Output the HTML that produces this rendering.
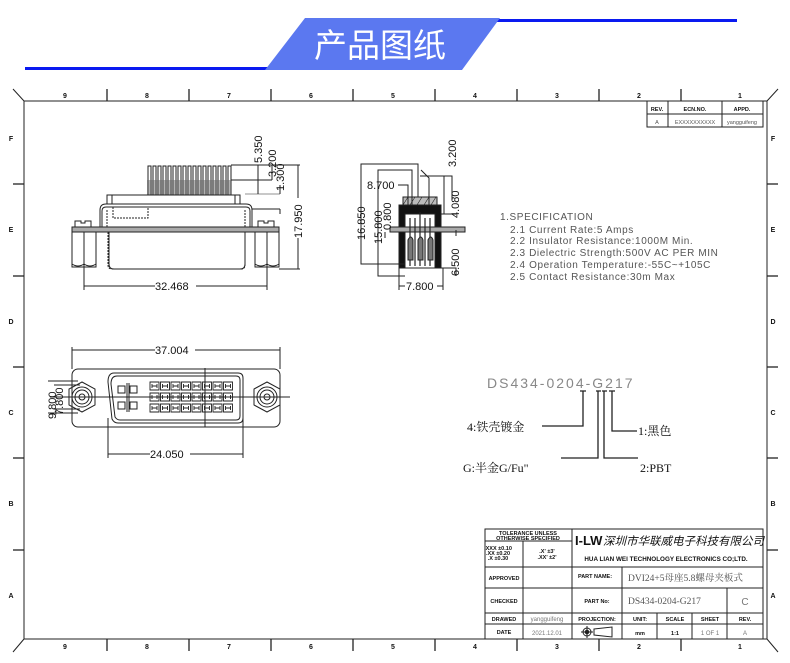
<!DOCTYPE html>
<html><head><meta charset="utf-8"><style>
html,body{margin:0;padding:0;background:#fff;}
svg{display:block;}
text{font-family:"Liberation Sans","Noto Sans CJK SC",sans-serif;}
text.cn,.cn text{font-family:"Liberation Serif","Noto Serif CJK SC",serif;}
</style></head><body>
<svg width="790" height="663" viewBox="0 0 790 663" xmlns="http://www.w3.org/2000/svg">
<defs>
<path id="c" d="M0,0 h9 v8 h-9z M2,2 v4 M7,2 v4 M2,4 h5"/>
</defs>
<!-- header -->
<line x1="25" y1="68.5" x2="270" y2="68.5" stroke="#0a1af0" stroke-width="3"/>
<line x1="490" y1="20.5" x2="737" y2="20.5" stroke="#0a1af0" stroke-width="3"/>
<polygon points="305,18 500,18 462,70 265,70" fill="#5b78f0"/>
<text x="380" y="57" font-size="33" fill="#fff" text-anchor="middle" font-family="'Noto Sans CJK SC',sans-serif">产品图纸</text>

<g stroke="#222" fill="none" stroke-width="1">
<line x1="24" y1="101" x2="767" y2="101"/>
<line x1="24" y1="639" x2="767" y2="639"/>
<line x1="24" y1="101" x2="24" y2="639"/>
<line x1="767" y1="101" x2="767" y2="639"/>
<line x1="13" y1="89" x2="24" y2="101"/>
<line x1="778" y1="89" x2="767" y2="101"/>
<line x1="13" y1="652" x2="24" y2="639"/>
<line x1="778" y1="652" x2="767" y2="639"/>
<g stroke-width="1.3">
<line x1="107" y1="89" x2="107" y2="101"/><line x1="189" y1="89" x2="189" y2="101"/><line x1="271" y1="89" x2="271" y2="101"/><line x1="353" y1="89" x2="353" y2="101"/><line x1="435" y1="89" x2="435" y2="101"/><line x1="517" y1="89" x2="517" y2="101"/><line x1="599" y1="89" x2="599" y2="101"/><line x1="681" y1="89" x2="681" y2="101"/>
<line x1="107" y1="639" x2="107" y2="651"/><line x1="189" y1="639" x2="189" y2="651"/><line x1="271" y1="639" x2="271" y2="651"/><line x1="353" y1="639" x2="353" y2="651"/><line x1="435" y1="639" x2="435" y2="651"/><line x1="517" y1="639" x2="517" y2="651"/><line x1="599" y1="639" x2="599" y2="651"/><line x1="681" y1="639" x2="681" y2="651"/>
<line x1="13" y1="184" x2="24" y2="184"/><line x1="13" y1="276" x2="24" y2="276"/><line x1="13" y1="367" x2="24" y2="367"/><line x1="13" y1="458" x2="24" y2="458"/><line x1="13" y1="550" x2="24" y2="550"/>
<line x1="767" y1="184" x2="778" y2="184"/><line x1="767" y1="276" x2="778" y2="276"/><line x1="767" y1="367" x2="778" y2="367"/><line x1="767" y1="458" x2="778" y2="458"/><line x1="767" y1="550" x2="778" y2="550"/>
</g>
<rect x="647" y="101" width="116" height="26"/>
<line x1="647" y1="114" x2="763" y2="114"/>
<line x1="668" y1="101" x2="668" y2="127"/><line x1="722" y1="101" x2="722" y2="127"/>
</g>
<g font-size="7" font-weight="bold" text-anchor="middle" fill="#111">
<text x="65" y="98">9</text><text x="147" y="98">8</text><text x="229" y="98">7</text><text x="311" y="98">6</text><text x="393" y="98">5</text><text x="475" y="98">4</text><text x="557" y="98">3</text><text x="639" y="98">2</text><text x="740" y="98">1</text>
<text x="65" y="649">9</text><text x="147" y="649">8</text><text x="229" y="649">7</text><text x="311" y="649">6</text><text x="393" y="649">5</text><text x="475" y="649">4</text><text x="557" y="649">3</text><text x="639" y="649">2</text><text x="740" y="649">1</text>
<text x="11" y="141">F</text><text x="11" y="232">E</text><text x="11" y="324">D</text><text x="11" y="415">C</text><text x="11" y="506">B</text><text x="11" y="598">A</text>
<text x="773" y="141">F</text><text x="773" y="232">E</text><text x="773" y="324">D</text><text x="773" y="415">C</text><text x="773" y="506">B</text><text x="773" y="598">A</text>
<text x="657" y="111" font-size="5.5">REV.</text><text x="695" y="111" font-size="5.5">ECN.NO.</text><text x="742" y="111" font-size="5.5">APPD.</text>
</g>
<g font-size="5.5" text-anchor="middle" fill="#555"><text x="657" y="124">A</text><text x="695" y="124">EXXXXXXXXXX</text><text x="742" y="124">yangguifeng</text></g>

<!-- FRONT VIEW -->
<g stroke="#222" fill="none" stroke-width="1">
<path d="M148,195 V166 h3 V195 M153,195 V166 h3 V195 M158,195 V166 h3 V195 M163,195 V166 h3 V195 M168,195 V166 h3 V195 M173,195 V166 h3 V195 M178,195 V166 h3 V195 M183,195 V166 h3 V195 M188,195 V166 h3 V195 M193,195 V166 h3 V195 M198,195 V166 h3 V195 M203,195 V166 h3 V195 M208,195 V166 h3 V195 M213,195 V166 h3 V195 M218,195 V166 h3 V195 M223,195 V166 h3 V195 M228,195 V166 h3 V195"/>
<rect x="147" y="180" width="84" height="15" fill="#666" stroke="none" opacity="0.5"/>
<rect x="107" y="195" width="133" height="9"/>
<line x1="112" y1="195" x2="112" y2="204"/><line x1="235" y1="195" x2="235" y2="204"/>
<path d="M100,228 V210 q0,-6 6,-6 H246 q6,0 6,6 V228"/>
<path d="M102,228 V211 q0,-4 4,-4 H246 q4,0 4,4 V228"/>
<rect x="113" y="207" width="35" height="11" stroke-dasharray="2,1"/>
<line x1="107" y1="210" x2="107" y2="227" stroke-dasharray="2,1"/><line x1="245" y1="210" x2="245" y2="227" stroke-dasharray="2,1"/>
<rect x="72" y="227" width="207" height="5" fill="#aaa"/>
<path d="M108,232 V265 q0,4 4,4 H241 q4,0 4,-4 V232" stroke-dasharray="2,1"/>
<path d="M109,232 V264 q0,5 5,5 H240 q5,0 5,-5 V232"/>
<rect x="72" y="232" width="24" height="35"/><rect x="255" y="232" width="24" height="35"/>
<path d="M72,264 q6,4 12,0 q6,4 12,0 M255,264 q6,4 12,0 q6,4 12,0"/>
<path d="M75,227 v-6 h6 v2 h4 v-2 h6 v6 M258,227 v-6 h6 v2 h4 v-2 h6 v6"/>
<line x1="84" y1="232" x2="84" y2="290"/><line x1="267" y1="232" x2="267" y2="290"/>
<line x1="84" y1="286" x2="155" y2="286"/><line x1="196" y1="286" x2="267" y2="286"/>
<line x1="231" y1="165" x2="300" y2="165"/><line x1="231" y1="180" x2="272" y2="180"/>
<line x1="245" y1="194" x2="280" y2="194" stroke-width="0.6"/>
<line x1="252" y1="209" x2="280" y2="209"/><line x1="280" y1="209" x2="280" y2="214"/>
<line x1="258" y1="165" x2="258" y2="194"/><line x1="272" y1="165" x2="272" y2="180"/>
<line x1="280" y1="185" x2="280" y2="194"/>
<line x1="279" y1="269" x2="300" y2="269"/>
<line x1="298" y1="165" x2="298" y2="198"/><line x1="298" y1="238" x2="298" y2="269"/>
</g>
<g font-size="11" fill="#111">
<text x="155" y="290">32.468</text>
<text transform="translate(302,238) rotate(-90)">17.950</text>
<text transform="translate(262,163) rotate(-90)">5.350</text>
<text transform="translate(276,177) rotate(-90)">3.200</text>
<text transform="translate(284,191) rotate(-90)">1.300</text>
</g>

<!-- SIDE VIEW -->
<g stroke="#222" fill="none" stroke-width="1">
<rect x="403" y="197" width="34" height="8" fill="#bbb"/>
<path d="M403,205 l5,-8 M410,205 l5,-8 M417,205 l5,-8 M424,205 l5,-8 M431,205 l5,-8" stroke-width="0.6"/>
<rect x="399" y="205" width="42" height="63" fill="#111"/>
<rect x="405" y="214" width="30" height="54" fill="#fff"/>
<rect x="390" y="227" width="75" height="5" fill="#aaa"/>
<path d="M410,218 v48 M415,218 v48 M420,212 v54 M425,218 v48 M430,218 v48" stroke-width="1.2"/>
<path d="M408,240 q3,-6 5,0 v20 h-5z M418,240 q3,-6 5,0 v20 h-5z M428,240 q3,-6 5,0 v20 h-5z" fill="#777"/>
<path d="M418,197 V164 H361 V264 H405"/>
<path d="M412,205 V170 H378 V276 H405"/>
<path d="M408,205 V185 H398"/>
<path d="M421,170 l8,8 V205"/>
<path d="M420,176 H452 V200"/>
<path d="M430,176 H444 V214"/>
<path d="M441,214 H456"/>
<path d="M441,232 H456 M456,230 v6"/>
<path d="M441,268 H456 V276"/>
<path d="M399,268 V290 M443,268 V290"/>
<line x1="399" y1="286" x2="405" y2="286"/><line x1="437" y1="286" x2="443" y2="286"/>
<line x1="385" y1="232" x2="385" y2="238"/>
</g>
<g font-size="11" fill="#111">
<text x="406" y="290">7.800</text>
<text x="367" y="189">8.700</text>
<text transform="translate(365,240) rotate(-90)">16.850</text>
<text transform="translate(382,244) rotate(-90)">15.800</text>
<text transform="translate(391,230) rotate(-90)">0.800</text>
<text transform="translate(456,167) rotate(-90)">3.200</text>
<text transform="translate(459,218) rotate(-90)">4.080</text>
<text transform="translate(459,276) rotate(-90)">6.500</text>
</g>

<!-- SPEC -->
<g font-size="10" fill="#555" letter-spacing="0.6">
<text x="500" y="220">1.SPECIFICATION</text>
<text x="510" y="233">2.1 Current Rate:5 Amps</text>
<text x="510" y="244">2.2 Insulator Resistance:1000M   Min.</text>
<text x="510" y="256">2.3 Dielectric Strength:500V AC PER MIN</text>
<text x="510" y="268">2.4 Operation Temperature:-55C~+105C</text>
<text x="510" y="280">2.5 Contact Resistance:30m   Max</text>
</g>

<!-- BOTTOM VIEW -->
<g stroke="#222" fill="none" stroke-width="1">
<rect x="72" y="369" width="208" height="58" rx="6"/>
<line x1="72" y1="347" x2="72" y2="369"/><line x1="280" y1="347" x2="280" y2="369"/>
<line x1="72" y1="350" x2="155" y2="350"/><line x1="195" y1="350" x2="280" y2="350"/>
<polygon points="82,382 95,389 95,405 82,412 69,405 69,389"/>
<circle cx="82" cy="397" r="10"/><circle cx="82" cy="397" r="7"/><circle cx="82" cy="397" r="3"/>
<polygon points="267,382 280,389 280,405 267,412 254,405 254,389"/>
<circle cx="267" cy="397" r="10"/><circle cx="267" cy="397" r="7"/><circle cx="267" cy="397" r="3"/>
<path d="M114,373 H238 q5,0 5,5 V418 q0,5 -5,5 H118 q-4,0 -6,-4 L108,382 q0,-9 6,-9z"/>
<path d="M117,376 H236 q4,0 4,4 V416 q0,4 -4,4 H120 q-3,0 -5,-3 L111,384 q0,-8 6,-8z"/>
<line x1="50" y1="397" x2="290" y2="397"/>
<line x1="205" y1="368" x2="205" y2="427"/>
<line x1="108" y1="418" x2="108" y2="458"/><line x1="243" y1="418" x2="243" y2="458"/>
<line x1="108" y1="454" x2="150" y2="454"/><line x1="190" y1="454" x2="243" y2="454"/>
<line x1="48" y1="381" x2="78" y2="381"/><line x1="48" y1="413" x2="78" y2="413"/>
<line x1="54" y1="385" x2="80" y2="385"/><line x1="54" y1="409" x2="80" y2="409"/>
<rect x="118" y="386" width="7" height="7"/><rect x="130" y="386" width="7" height="7"/>
<rect x="118" y="402" width="7" height="7"/><rect x="130" y="402" width="7" height="7"/>
<path d="M127,383 v29 M129,383 v29 M114,397 H142"/>
</g>
<g stroke="#222" fill="none" stroke-width="0.9">
<g transform="translate(150,382)"><use href="#c"/><use href="#c" x="10.5"/><use href="#c" x="21"/><use href="#c" x="31.5"/><use href="#c" x="42"/><use href="#c" x="52.5"/><use href="#c" x="63"/><use href="#c" x="73.5"/></g>
<g transform="translate(150,393)"><use href="#c"/><use href="#c" x="10.5"/><use href="#c" x="21"/><use href="#c" x="31.5"/><use href="#c" x="42"/><use href="#c" x="52.5"/><use href="#c" x="63"/><use href="#c" x="73.5"/></g>
<g transform="translate(150,404)"><use href="#c"/><use href="#c" x="10.5"/><use href="#c" x="21"/><use href="#c" x="31.5"/><use href="#c" x="42"/><use href="#c" x="52.5"/><use href="#c" x="63"/><use href="#c" x="73.5"/></g>
</g>
<g font-size="11" fill="#111">
<text x="155" y="354">37.004</text>
<text x="150" y="458">24.050</text>
<text transform="translate(56,419) rotate(-90)">9.800</text>
<text transform="translate(63,415) rotate(-90)">7.800</text>
</g>

<!-- part number callouts -->
<text x="487" y="388" font-size="14" fill="#888" letter-spacing="2">DS434-0204-G217</text>
<g stroke="#222" fill="none" stroke-width="1.3">
<path d="M580,391 h6 M583,391 V426 H542"/>
<path d="M596,391 h5 M598,391 v67 H561"/>
<path d="M602,391 h5 M604,391 v67 H638"/>
<path d="M609,391 h6 M612,391 V431 H637"/>
</g>
<g class="cn" font-size="12" fill="#111">
<text x="467" y="431">4:铁壳镀金</text>
<text x="638" y="435">1:黑色</text>
<text x="463" y="472">G:半金G/Fu"</text>
<text x="640" y="472">2:PBT</text>
</g>

<!-- TITLE BLOCK -->
<g stroke="#222" fill="none" stroke-width="1">
<rect x="485" y="529" width="278" height="110"/>
<line x1="485" y1="567" x2="763" y2="567"/>
<line x1="485" y1="588" x2="763" y2="588"/>
<line x1="485" y1="613" x2="763" y2="613"/>
<line x1="485" y1="624" x2="763" y2="624"/>
<line x1="523" y1="541" x2="523" y2="639"/>
<line x1="485" y1="541" x2="572" y2="541"/>
<line x1="572" y1="529" x2="572" y2="639"/>
<line x1="622" y1="567" x2="622" y2="639"/>
<line x1="657" y1="613" x2="657" y2="639"/>
<line x1="692" y1="613" x2="692" y2="639"/>
<line x1="727" y1="588" x2="727" y2="639"/>
<circle cx="587" cy="632" r="4"/><circle cx="587" cy="632" r="1.8" fill="#222"/>
<path d="M581,632 h12 M587,626 v12 M594,629 l18,-2 v10 l-18,-2z"/>
</g>
<g font-size="5.5" font-weight="bold" fill="#111" text-anchor="middle">
<text x="528" y="535">TOLERANCE UNLESS</text>
<text x="528" y="540">OTHERWISE SPECIFIED</text>
<text x="498" y="550">.XXX ±0.10</text><text x="498" y="555">.XX  ±0.20</text><text x="498" y="560">.X   ±0.30</text>
<text x="547" y="553">.X'   ±3'</text><text x="547" y="559">.XX'  ±2'</text>
<text x="504" y="580">APPROVED</text>
<text x="504" y="603">CHECKED</text>
<text x="504" y="621">DRAWED</text>
<text x="504" y="634">DATE</text>
<text x="595" y="578">PART NAME:</text>
<text x="597" y="603">PART No:</text>
<text x="597" y="621">PROJECTION:</text>
<text x="640" y="621">UNIT:</text><text x="675" y="621">SCALE</text><text x="710" y="621">SHEET</text><text x="745" y="621">REV.</text>
<text x="640" y="635">mm</text><text x="675" y="635">1:1</text>
<text x="666" y="561" font-size="6.3">HUA LIAN WEI TECHNOLOGY ELECTRONICS CO;LTD.</text>
</g>
<text x="575" y="545" font-size="13" font-weight="bold" fill="#111">I-LW</text>
<text x="603" y="545" font-size="11.5" font-style="italic" fill="#111" font-family="'Noto Sans CJK SC',sans-serif">深圳市华联威电子科技有限公司</text>
<g font-size="6" fill="#777" text-anchor="middle">
<text x="547" y="621">yangguifeng</text><text x="547" y="635">2021.12.01</text>
<text x="710" y="635">1 OF 1</text><text x="745" y="635">A</text>
</g>
<text x="628" y="581" class="cn" font-size="9.5" fill="#555">DVI24+5母座5.8螺母夹板式</text>
<text x="628" y="604" class="cn" font-size="9.5" fill="#555">DS434-0204-G217</text>
<text x="745" y="605" font-size="10" fill="#777" text-anchor="middle">C</text>
</svg>
</body></html>
